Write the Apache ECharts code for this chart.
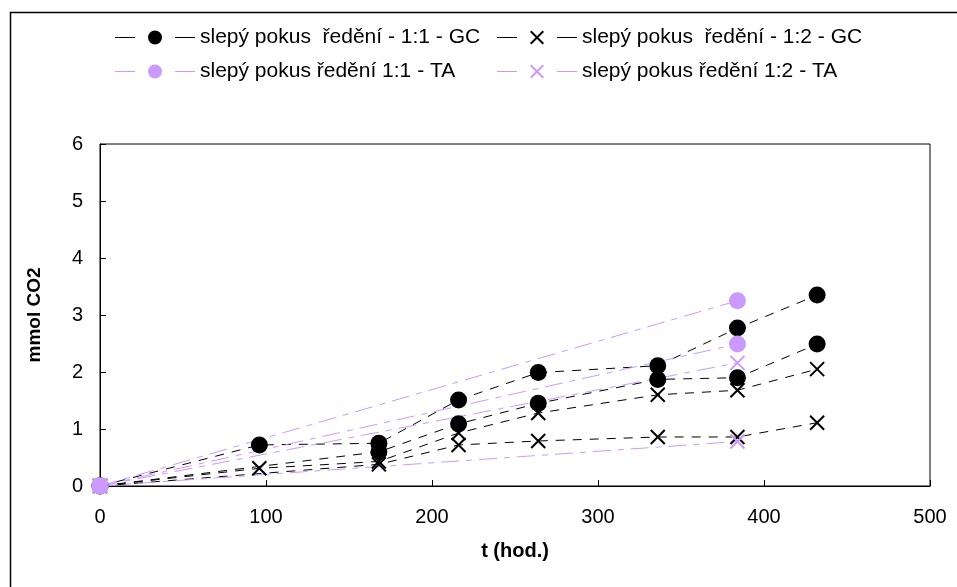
<!DOCTYPE html>
<html>
<head>
<meta charset="utf-8">
<script src="https://cdn.jsdelivr.net/npm/echarts@6/dist/echarts.min.js"></script>
<style>
html,body{margin:0;padding:0;background:#fff;}
#c{width:957px;height:587px;}
</style>
</head>
<body>
<div id="c"></div>
<script>
// time points (hours)
var tHours = [0, 96, 168, 216, 264, 336, 384, 432];
// GC series (null = not measured)
var gc11a = [0, 0.72, 0.75, 1.51, 1.99, 2.11, 2.77, 3.35];
var gc11b = [0, null, 0.60, 1.09, 1.45, 1.87, 1.90, 2.49];
var gc12a = [0, 0.31, 0.43, 0.93, 1.28, 1.60, 1.68, 2.05];
var gc12b = [0, null, 0.38, 0.72, 0.79, 0.86, 0.86, 1.11];
// TA series
var taHours = [0, 384];
var ta11a = [0, 3.25];
var ta11b = [0, 2.49];
var ta12a = [0, 2.16];
var ta12b = [0, 0.78];
// axis ticks
var xTicks = [0, 100, 200, 300, 400, 500];
var yTicks = [0, 1, 2, 3, 4, 5, 6];

var names = {
  gc11: 'slepý pokus  ředění - 1:1 - GC',
  gc12: 'slepý pokus  ředění - 1:2 - GC',
  ta11: 'slepý pokus ředění 1:1 - TA',
  ta12: 'slepý pokus ředění 1:2 - TA'
};

function pairs(xs, ys) {
  var out = [];
  for (var i = 0; i < xs.length; i++) if (ys[i] !== null) out.push([xs[i], ys[i]]);
  return out;
}

var BLACK = '#000000';
var PURPLE = '#cc99ff';
var XPATH = 'path://M0,0L10,10M10,0L0,10';
var blackDash = [9, 8];
var purpleDash = [18, 7, 6, 7];

// legend icons: "— marker —" (80 x 14)
var LEG_LINES = 'M0,6.5L20,6.5L20,7.5L0,7.5Z M60,6.5L80,6.5L80,7.5L60,7.5Z';
var ICON_CIRCLE = 'path://' + LEG_LINES + ' M33,7A7,7 0 1,1 47,7A7,7 0 1,1 33,7Z';
var ICON_X = 'path://' + LEG_LINES + ' M33,1.4L34.4,0L47,12.6L45.6,14Z M45.6,0L47,1.4L34.4,14L33,12.6Z';

function mk(name, xs, ys, color, symbol, dash, size, bw) {
  return {
    name: name,
    type: 'line',
    data: pairs(xs, ys),
    symbol: symbol,
    symbolSize: size,
    showSymbol: true,
    animation: false,
    lineStyle: {color: color, width: 1, type: dash},
    itemStyle: {color: color, borderColor: color, borderWidth: bw, opacity: 1},
    emphasis: {disabled: true}
  };
}

var series = [
  mk(names.gc11, tHours, gc11a, BLACK, 'circle', blackDash, 17, 0),
  mk('gc11b', tHours, gc11b, BLACK, 'circle', blackDash, 17, 0),
  mk(names.gc12, tHours, gc12a, BLACK, XPATH, blackDash, 14, 2),
  mk('gc12b', tHours, gc12b, BLACK, XPATH, blackDash, 14, 2),
  mk(names.ta11, taHours, ta11a, PURPLE, 'circle', purpleDash, 17, 0),
  mk('ta11b', taHours, ta11b, PURPLE, 'circle', purpleDash, 17, 0),
  mk(names.ta12, taHours, ta12a, PURPLE, XPATH, purpleDash, 14, 2),
  mk('ta12b', taHours, ta12b, PURPLE, XPATH, purpleDash, 14, 2)
];

var FONT = 'Liberation Sans';
function leg(name, icon, left, top) {
  return {
    data: [{name: name, icon: icon}],
    left: left, top: top,
    itemWidth: 80, itemHeight: 14, itemGap: 0,
    selectedMode: false,
    itemStyle: {borderWidth: 0},
    textStyle: {fontFamily: FONT, fontSize: 21, color: '#000', padding: [0,0,0,0]},
    padding: 0
  };
}

var chart = echarts.init(document.getElementById('c'), null, {renderer: 'canvas'});
chart.setOption({
  backgroundColor: '#fff',
  animation: false,
  legend: [
    leg(names.gc11, ICON_CIRCLE, 115, 27),
    leg(names.gc12, ICON_X, 497, 27),
    leg(names.ta11, ICON_CIRCLE, 115, 61),
    leg(names.ta12, ICON_X, 497, 61)
  ],
  grid: {left: 100, right: 27, top: 144, bottom: 101, show: true, borderColor: '#000', borderWidth: 1, backgroundColor: 'transparent'},
  xAxis: {
    type: 'value', min: xTicks[0], max: xTicks[xTicks.length - 1], interval: 100,
    name: 't (hod.)', nameLocation: 'middle', nameGap: 55,
    nameTextStyle: {fontFamily: FONT, fontSize: 20, fontWeight: 'bold', color: '#000'},
    axisLine: {show: true, lineStyle: {color: '#000', width: 1}},
    axisTick: {show: true, inside: true, length: 6, lineStyle: {color: '#000'}},
    axisLabel: {fontFamily: FONT, fontSize: 20, color: '#000', margin: 21},
    splitLine: {show: false}
  },
  yAxis: {
    type: 'value', min: yTicks[0], max: yTicks[yTicks.length - 1], interval: 1,
    name: 'mmol CO2', nameLocation: 'middle', nameGap: 56, nameRotate: 90,
    nameTextStyle: {fontFamily: FONT, fontSize: 19, fontWeight: 'bold', color: '#000'},
    axisLine: {show: true, lineStyle: {color: '#000', width: 1}},
    axisTick: {show: true, inside: true, length: 6, lineStyle: {color: '#000'}},
    axisLabel: {fontFamily: FONT, fontSize: 20, color: '#000', margin: 17},
    splitLine: {show: false}
  },
  graphic: [{
    type: 'polyline',
    shape: {points: [[10.5, 587], [10.5, 12.5], [957, 12.5]]},
    style: {stroke: '#000', lineWidth: 1.5, fill: null},
    silent: true
  }],
  series: series
});
</script>
</body>
</html>
